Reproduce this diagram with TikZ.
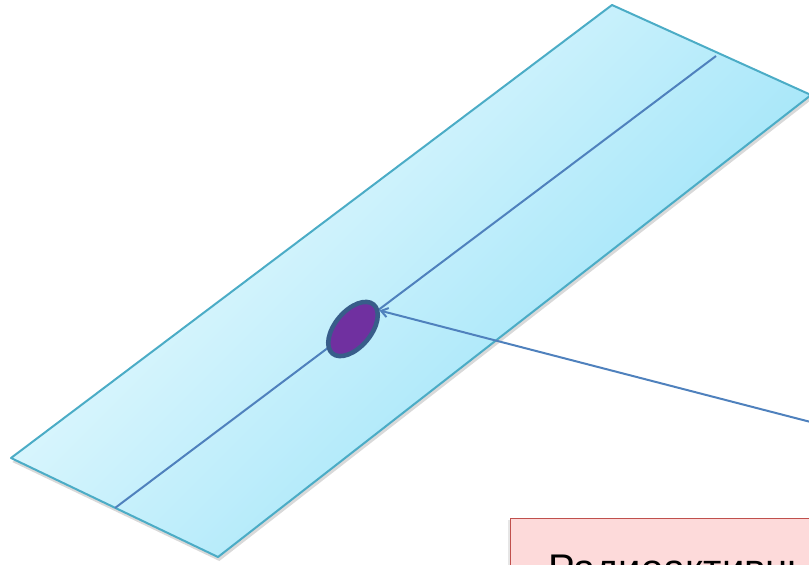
\documentclass[tikz,border=0pt]{standalone}
\usepackage{fontspec}
\setmainfont{Liberation Sans}
\usetikzlibrary{positioning, arrows.meta, shapes.geometric, shadows}

\definecolor{stripedge}{HTML}{4BACC6}
\definecolor{stripfrom}{HTML}{F2FDFF}
\definecolor{stripto}{HTML}{8EDFF7}
\definecolor{axisblue}{HTML}{4F81BD}
\definecolor{spotfill}{HTML}{7030A0}
\definecolor{spotedge}{HTML}{385D8A}
\definecolor{notefill}{HTML}{FDDADA}
\definecolor{noteedge}{HTML}{C0504D}

\begin{document}
\begin{tikzpicture}[
    x=0.75pt, y=-0.75pt,
    strip/.style={
        draw=stripedge,
        line width=1.5pt,
        line join=round,
        left color=stripfrom,
        right color=stripto,
        shading angle=45,
        drop shadow={shadow xshift=1pt, shadow yshift=-3pt, opacity=0.3}
    },
    axis/.style={
        draw=axisblue,
        line width=1.5pt
    },
    spot/.style={
        ellipse,
        draw=spotedge,
        fill=spotfill,
        line width=3.4pt,
        inner sep=0pt,
        minimum width=48pt,
        minimum height=27pt,
        rotate=50
    },
    note/.style={
        rectangle,
        draw=noteedge,
        fill=notefill,
        line width=1pt,
        anchor=north west,
        font=\fontsize{30pt}{36pt}\selectfont,
        inner xsep=28pt,
        inner ysep=26pt,
        text height=21.5pt,
        text depth=6pt,
        drop shadow={shadow xshift=-2pt, shadow yshift=-1pt, opacity=0.2}
    },
    arrow/.style={
        -{Straight Barb[length=5pt, width=7pt]},
        draw=axisblue,
        line width=1.5pt
    }
]
\useasboundingbox[clip] (0,0) rectangle (809,564);

% ------------------------------------------------------------------
% STRIP
% ------------------------------------------------------------------

\coordinate (top) at (612,5);
\coordinate (right) at (811,95);
\coordinate (bottom) at (218,557);
\coordinate (left) at (11,458);

\path[strip] (left) -- (top) -- (right) -- (bottom) -- cycle;

\coordinate (axisa) at (115,508);
\coordinate (axisb) at (716,56);
\draw[axis] (axisa) -- (axisb);

% ------------------------------------------------------------------
% SOURCE AND LABEL
% ------------------------------------------------------------------

\node[spot] (source) at (353,329) {};

\node[note] (label) at (510,518) {Радиоактивный};

\coordinate (tail) at (830,427);
\draw[arrow] (tail) -- (source.-15);

\end{tikzpicture}
\end{document}
